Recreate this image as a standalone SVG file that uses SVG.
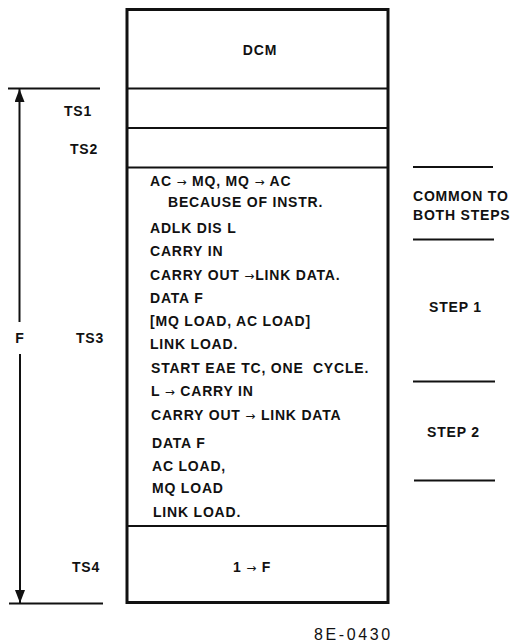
<svg xmlns="http://www.w3.org/2000/svg" width="512" height="643" viewBox="0 0 512 643">
<style>
.t{font-family:"Liberation Sans",Arial,sans-serif;font-weight:bold;font-size:14px;fill:#111;letter-spacing:0.8px}
.a{font-family:"DejaVu Sans",sans-serif;font-weight:normal;font-size:12px}
.box{fill:none;stroke:#111;stroke-width:3}
.ln{stroke:#111;stroke-width:2;fill:none}
.cap{font-family:"Liberation Sans",Arial,sans-serif;font-size:16px;fill:#111;letter-spacing:2.6px}
</style>
<defs>
<marker id="ah" viewBox="0 0 13 10" refX="13" refY="5" markerWidth="13" markerHeight="10" markerUnits="userSpaceOnUse" orient="auto">
<path d="M0,0 L13,5 L0,10 Z" fill="#111"/>
</marker>
</defs>
<rect width="512" height="643" fill="#fff"/>
<g id="dcm">
<rect class="box" x="127" y="9.5" width="261" height="593"/>
<text class="t" x="260" y="55" text-anchor="middle">DCM</text>
</g>
<g id="ts1">
<line class="ln" x1="127" y1="88.5" x2="388" y2="88.5"/>
<text class="t" x="64" y="116">TS1</text>
</g>
<g id="ts2">
<line class="ln" x1="127" y1="128" x2="388" y2="128"/>
<text class="t" x="70" y="154">TS2</text>
</g>
<g id="ts3">
<line class="ln" x1="127" y1="167.5" x2="388" y2="167.5"/>
<text class="t" x="76" y="343">TS3</text>
<text class="t" x="150" y="186">AC <tspan class="a">→</tspan> MQ, MQ <tspan class="a">→</tspan> AC</text>
<text class="t" x="168" y="207">BECAUSE OF INSTR.</text>
<text class="t" x="150" y="233">ADLK DIS L</text>
<text class="t" x="150" y="256">CARRY IN</text>
<text class="t" x="150" y="280">CARRY OUT <tspan class="a">→</tspan>LINK DATA.</text>
<text class="t" x="150" y="303">DATA F</text>
<text class="t" x="150" y="326">[MQ LOAD, AC LOAD]</text>
<text class="t" x="150" y="349">LINK LOAD.</text>
<text class="t" x="151" y="373" xml:space="preserve">START EAE TC, ONE  CYCLE.</text>
<text class="t" x="151" y="396">L <tspan class="a">→</tspan> CARRY IN</text>
<text class="t" x="151" y="420">CARRY OUT <tspan class="a">→</tspan> LINK DATA</text>
<text class="t" x="152" y="448">DATA F</text>
<text class="t" x="152" y="471">AC LOAD,</text>
<text class="t" x="152" y="493">MQ LOAD</text>
<text class="t" x="153" y="517">LINK LOAD.</text>
</g>
<g id="ts4">
<line class="ln" x1="127" y1="526" x2="388" y2="526"/>
<text class="t" x="72" y="572">TS4</text>
<text class="t" x="233" y="572">1 <tspan class="a">→</tspan> F</text>
</g>
<g id="steps">
<line class="ln" x1="413" y1="167" x2="493" y2="167"/>
<text class="t" x="413" y="201">COMMON TO</text>
<text class="t" x="413" y="220">BOTH STEPS</text>
<line class="ln" x1="413" y1="239.5" x2="494" y2="239.5"/>
<text class="t" x="429" y="312">STEP 1</text>
<line class="ln" x1="413" y1="381.5" x2="495" y2="381.5"/>
<text class="t" x="427" y="437">STEP 2</text>
<line class="ln" x1="414" y1="480.5" x2="495" y2="480.5"/>
</g>
<g id="connectors">
<line class="ln" x1="8" y1="88.5" x2="100" y2="88.5"/>
<line class="ln" x1="9" y1="603.5" x2="103" y2="603.5"/>
<line class="ln" x1="19.5" y1="322" x2="19.5" y2="89" marker-end="url(#ah)"/>
<line class="ln" x1="20" y1="354" x2="20" y2="603" marker-end="url(#ah)"/>
<text class="t" x="20" y="343" text-anchor="middle">F</text>
</g>
<text class="cap" x="314" y="640">8E-0430</text>
</svg>
